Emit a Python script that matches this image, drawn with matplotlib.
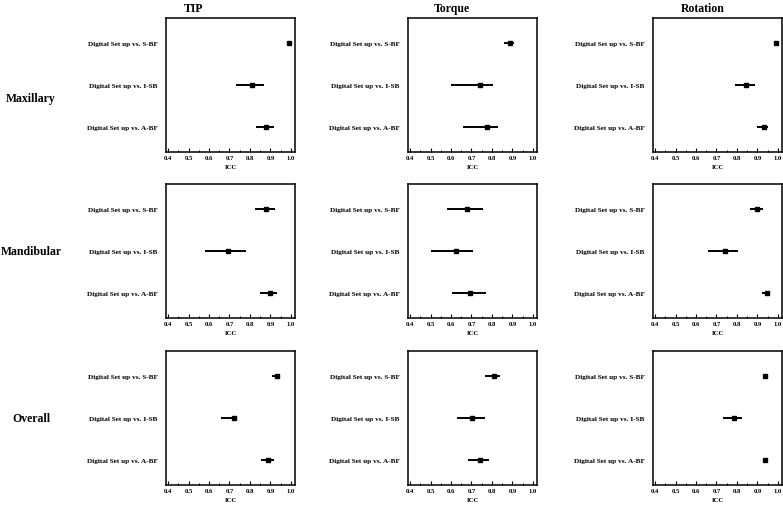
import matplotlib
matplotlib.use("Agg")
import matplotlib.pyplot as plt
from matplotlib.ticker import MultipleLocator

plt.rcParams['font.family'] = ['Liberation Serif', 'DejaVu Serif']
plt.rcParams['font.weight'] = 'bold'

categories = ["Digital Set up vs. S-BF", "Digital Set up vs. I-SB", "Digital Set up vs. A-BF"]
measures = ["TIP", "Torque", "Rotation"]
jaws = ["Maxillary", "Mandibular", "Overall"]
x_ticks = [0.4, 0.5, 0.6, 0.7, 0.8, 0.9, 1.0]

# ICC point estimate, lower and upper CI, ordered as categories
max_tip_icc = [0.99, 0.81, 0.88]
max_tip_lo = [0.985, 0.73, 0.83]
max_tip_hi = [0.995, 0.87, 0.917]

max_torque_icc = [0.89, 0.74, 0.775]
max_torque_lo = [0.86, 0.60, 0.66]
max_torque_hi = [0.91, 0.805, 0.828]

max_rot_icc = [0.99, 0.843, 0.93]
max_rot_lo = [0.987, 0.79, 0.90]
max_rot_hi = [0.995, 0.886, 0.95]

man_tip_icc = [0.88, 0.693, 0.90]
man_tip_lo = [0.827, 0.58, 0.85]
man_tip_hi = [0.92, 0.78, 0.93]

man_torque_icc = [0.68, 0.624, 0.695]
man_torque_lo = [0.58, 0.50, 0.603]
man_torque_hi = [0.755, 0.705, 0.77]

man_rot_icc = [0.898, 0.743, 0.945]
man_rot_lo = [0.864, 0.66, 0.92]
man_rot_hi = [0.925, 0.805, 0.96]

all_tip_icc = [0.93, 0.72, 0.889]
all_tip_lo = [0.908, 0.661, 0.855]
all_tip_hi = [0.948, 0.725, 0.915]

all_torque_icc = [0.808, 0.704, 0.74]
all_torque_lo = [0.767, 0.628, 0.685]
all_torque_hi = [0.839, 0.768, 0.784]

all_rot_icc = [0.937, 0.784, 0.936]
all_rot_lo = [0.925, 0.734, 0.925]
all_rot_hi = [0.95, 0.826, 0.945]

panels = [
    [(max_tip_icc, max_tip_lo, max_tip_hi), (max_torque_icc, max_torque_lo, max_torque_hi), (max_rot_icc, max_rot_lo, max_rot_hi)],
    [(man_tip_icc, man_tip_lo, man_tip_hi), (man_torque_icc, man_torque_lo, man_torque_hi), (man_rot_icc, man_rot_lo, man_rot_hi)],
    [(all_tip_icc, all_tip_lo, all_tip_hi), (all_torque_icc, all_torque_lo, all_torque_hi), (all_rot_icc, all_rot_lo, all_rot_hi)],
]

W, H = 783, 506
fig = plt.figure(figsize=(W / 100, H / 100), dpi=100)

col_left = [166, 408, 653]
col_w = 129
row_top = [19, 185, 352]
row_h = 134

ypos = [3, 2, 1]

for r in range(3):
    for c in range(3):
        l = col_left[c] / W
        b = 1 - (row_top[r] + row_h) / H
        ax = fig.add_axes([l, b, col_w / W, row_h / H])
        icc, lo, hi = panels[r][c]
        xerr = [[v - a for v, a in zip(icc, lo)], [b2 - v for v, b2 in zip(icc, hi)]]
        ax.errorbar(icc, ypos, xerr=xerr, fmt='s', color='black', ecolor='black',
                    elinewidth=1.4, markersize=3.0, capsize=0)
        ax.set_xlim(0.39, 1.02)
        ax.set_ylim(0.4, 3.6)
        ax.set_yticks(ypos)
        ax.set_yticklabels(categories, fontsize=5.2, fontweight='bold')
        ax.tick_params(axis='y', length=0, pad=6)
        ax.set_xticks(x_ticks)
        ax.set_xticklabels([f"{t:.1f}" for t in x_ticks], fontsize=4.8, fontweight='bold')
        ax.xaxis.set_minor_locator(MultipleLocator(0.05))
        ax.tick_params(axis='x', which='major', direction='in', length=3, width=0.8, pad=2.5)
        ax.tick_params(axis='x', which='minor', direction='in', length=1.8, width=0.7)
        ax.set_xlabel("ICC", fontsize=4.8, fontweight='bold', labelpad=2.5)
        for s in ax.spines.values():
            s.set_linewidth(1.1)

title_x = [194, 452, 703]
for c in range(3):
    fig.text(title_x[c] / W, 1 - 9 / H, measures[c], fontsize=8.5, fontweight='bold',
             ha='center', va='center')

row_label_y = [99, 252, 419]
for r in range(3):
    fig.text(31 / W, 1 - row_label_y[r] / H, jaws[r], fontsize=8.5, fontweight='bold',
             ha='center', va='center')

fig.savefig("out.png", dpi=100)
